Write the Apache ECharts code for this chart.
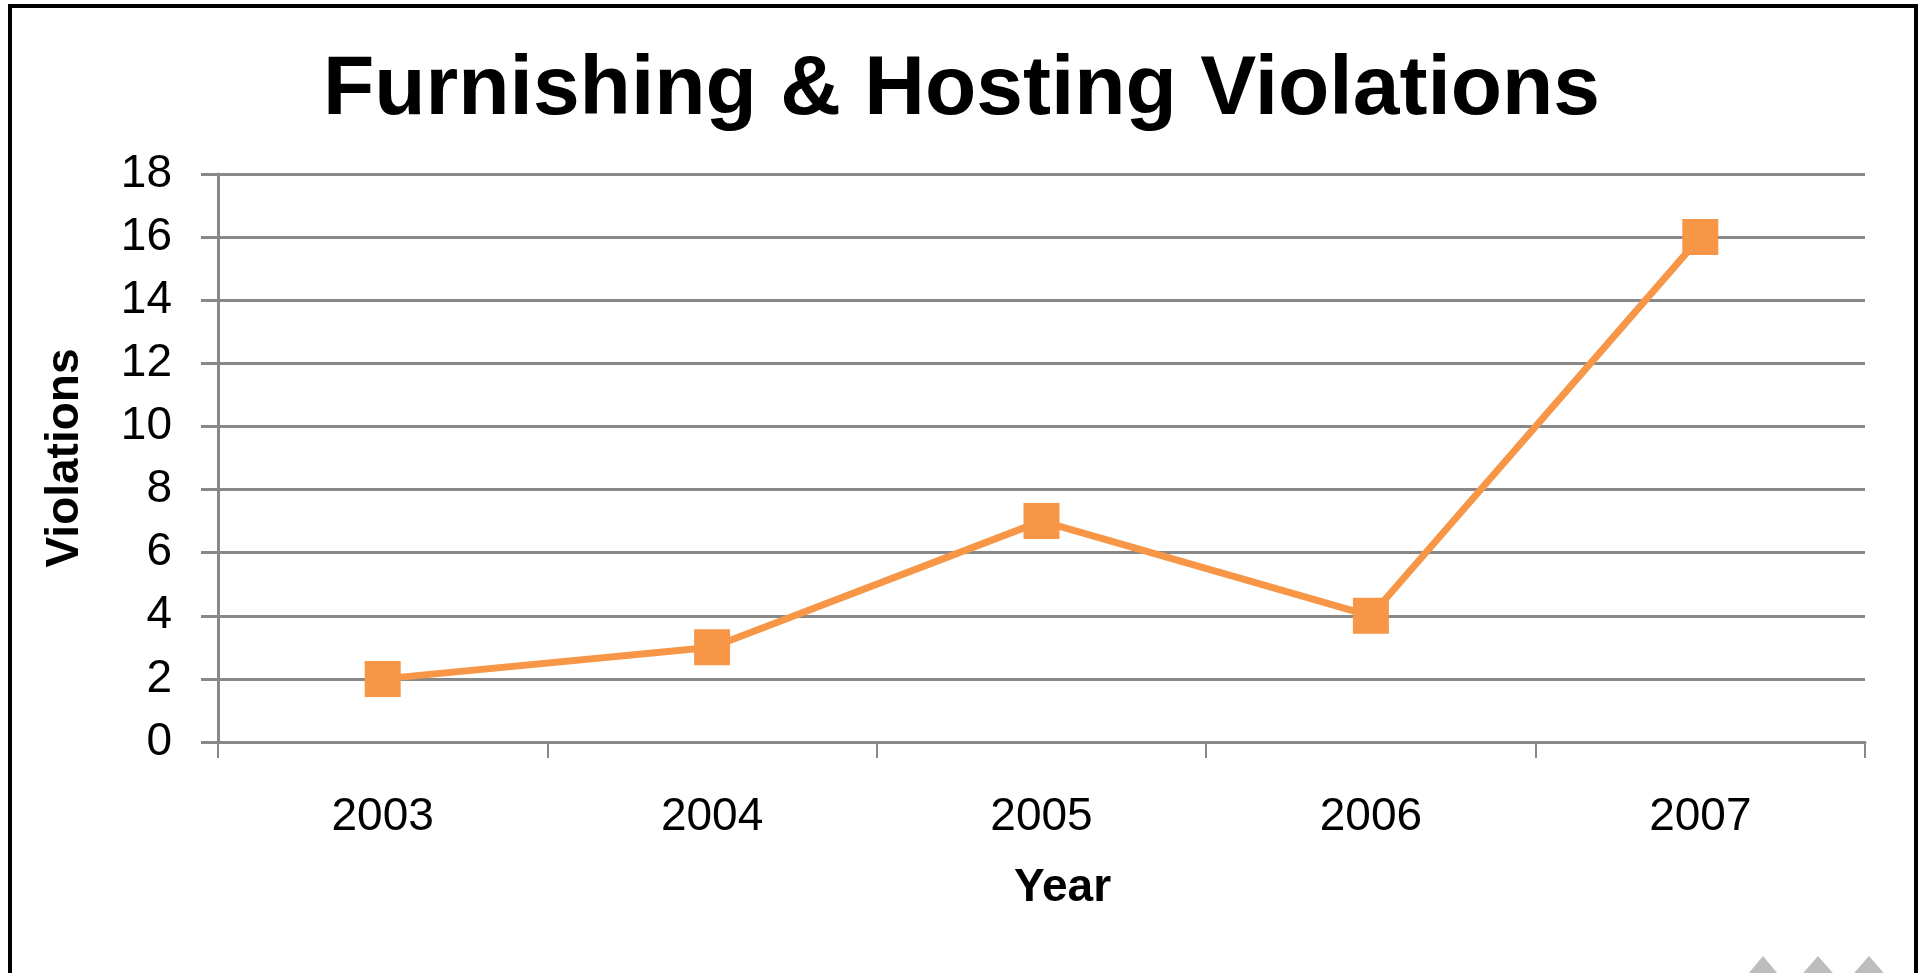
<!DOCTYPE html>
<html>
<head>
<meta charset="utf-8">
<script src="https://cdn.jsdelivr.net/npm/echarts@6/dist/echarts.min.js"></script>
<style>
html,body{margin:0;padding:0;background:#fff;}
#chart{width:1923px;height:973px;}
</style>
</head>
<body>
<div id="chart"></div>
<script>
var titleText = 'Furnishing & Hosting Violations';
var years = ['2003', '2004', '2005', '2006', '2007'];
var violations = [2, 3, 7, 4, 16];
var yMin = 0, yMax = 18, yStep = 2;

var chart = echarts.init(document.getElementById('chart'));
chart.setOption({
  backgroundColor: '#fff',
  animation: false,
  title: {
    text: titleText,
    left: 'center',
    top: 44,
    textStyle: {fontFamily: 'Liberation Sans', fontWeight: 'bold', fontSize: 84, color: '#000'}
  },
  grid: {left: 218, right: 58, top: 174, bottom: 231},
  xAxis: {
    type: 'category',
    data: years,
    boundaryGap: true,
    name: 'Year',
    nameLocation: 'middle',
    nameGap: 123,
    nameTextStyle: {fontFamily: 'Liberation Sans', fontWeight: 'bold', fontSize: 46, color: '#000', padding: [0, 0, 0, 42]},
    axisLine: {show: true, lineStyle: {color: '#888', width: 3}},
    axisTick: {show: true, length: 16, lineStyle: {color: '#888', width: 2}},
    axisLabel: {fontFamily: 'Liberation Sans', fontSize: 46, color: '#000', margin: 52},
    splitLine: {show: false}
  },
  yAxis: {
    type: 'value',
    min: yMin, max: yMax, interval: yStep,
    name: 'Violations',
    nameLocation: 'middle',
    nameGap: 130,
    nameTextStyle: {fontFamily: 'Liberation Sans', fontWeight: 'bold', fontSize: 46, color: '#000'},
    axisLine: {show: true, lineStyle: {color: '#888', width: 3}},
    axisTick: {show: true, length: 17, lineStyle: {color: '#888', width: 3}},
    axisLabel: {fontFamily: 'Liberation Sans', fontSize: 46, color: '#000', margin: 46},
    splitLine: {show: true, lineStyle: {color: '#888', width: 3}}
  },
  series: [{
    type: 'line',
    data: violations,
    symbol: 'rect',
    symbolSize: 36,
    lineStyle: {color: '#F79646', width: 7},
    itemStyle: {color: '#F79646'}
  }],
  graphic: [
    {type: 'rect', shape: {x: 10, y: 6, width: 1906, height: 980}, style: {fill: 'none', stroke: '#000', lineWidth: 4}},
    {type: 'polygon', shape: {points: [[1743, 980], [1763, 956], [1783, 980]]}, style: {fill: '#BDBDBD'}},
    {type: 'polygon', shape: {points: [[1797, 980], [1818, 956], [1839, 980]]}, style: {fill: '#BDBDBD'}},
    {type: 'polygon', shape: {points: [[1848, 980], [1869, 956], [1890, 980]]}, style: {fill: '#BDBDBD'}}
  ]
});
</script>
</body>
</html>
